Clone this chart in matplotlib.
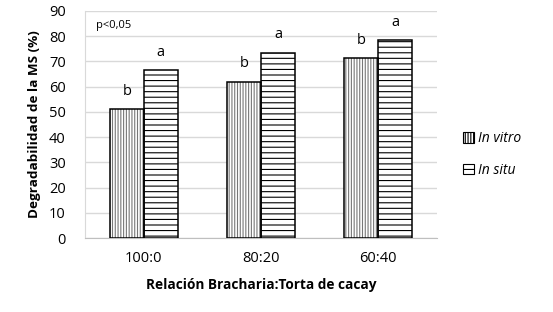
import matplotlib
matplotlib.use("Agg")
import matplotlib.pyplot as plt
import numpy as np
from matplotlib.patches import Patch

categories = ["100:0", "80:20", "60:40"]
in_vitro = [51.0, 62.0, 71.5]
in_situ = [66.5, 73.5, 78.5]
letters_vitro = ["b", "b", "b"]
letters_situ = ["a", "a", "a"]
yticks = [0, 10, 20, 30, 40, 50, 60, 70, 80, 90]

plt.rcParams['font.family'] = ['Open Sans', 'DejaVu Sans']
plt.rcParams['hatch.linewidth'] = 0.8

fig = plt.figure(figsize=(5.53, 3.12), dpi=100)
ax = fig.add_axes([0.154, 0.237, 0.636, 0.728])

x = np.arange(len(categories))
w = 0.29

# In vitro: gray vertical hatch
ax.bar(x - w/2, in_vitro, w, color='white', edgecolor='#777777', hatch='||||||', linewidth=0, zorder=3)
ax.bar(x - w/2, in_vitro, w, color='none', edgecolor='black', linewidth=1.1, zorder=4)
# In situ: black horizontal hatch
ax.bar(x + w/2, in_situ, w, color='white', edgecolor='black', hatch='---', linewidth=0, zorder=3)
ax.bar(x + w/2, in_situ, w, color='none', edgecolor='black', linewidth=1.1, zorder=4)

for i in range(len(categories)):
    ax.text(x[i] - w/2, in_vitro[i] + 4, letters_vitro[i], ha='center', va='bottom', fontsize=10.5)
    ax.text(x[i] + w/2, in_situ[i] + 4, letters_situ[i], ha='center', va='bottom', fontsize=10.5)

ax.set_xlim(-0.5, 2.5)
ax.set_ylim(0, 90)
ax.set_yticks(yticks)
ax.set_xticks(x)
ax.set_xticklabels(categories, fontsize=10.5)
ax.tick_params(axis='y', labelsize=10.5, length=0, pad=14)
ax.tick_params(axis='x', length=0, pad=9)
ax.yaxis.grid(True, color='#d9d9d9', linewidth=1.0, zorder=0)
ax.set_axisbelow(True)
for s in ['top', 'right']:
    ax.spines[s].set_visible(False)
ax.spines['left'].set_color('#d9d9d9')
ax.spines['bottom'].set_color('#bfbfbf')

ax.set_ylabel("Degradabilidad de la MS (%)", fontsize=9.7, fontweight='bold', labelpad=6)
ax.set_xlabel("Relación Bracharia:Torta de cacay", fontsize=9.8, fontweight='bold', labelpad=9)
ax.text(0.03, 0.96, "p<0,05", transform=ax.transAxes, fontsize=8, va='top', ha='left')

handles = [Patch(facecolor='white', edgecolor='black', hatch='||||||', linewidth=0.8),
           Patch(facecolor='white', edgecolor='black', hatch='---', linewidth=0.8)]
leg = fig.legend(handles, ["In vitro", "In situ"], loc='center left', bbox_to_anchor=(0.815, 0.505),
                 frameon=False, handlelength=0.8, handleheight=0.8, handletextpad=0.3,
                 labelspacing=1.2, prop={'style': 'italic', 'size': 10})

fig.savefig("out.png", dpi=100, facecolor='white')
